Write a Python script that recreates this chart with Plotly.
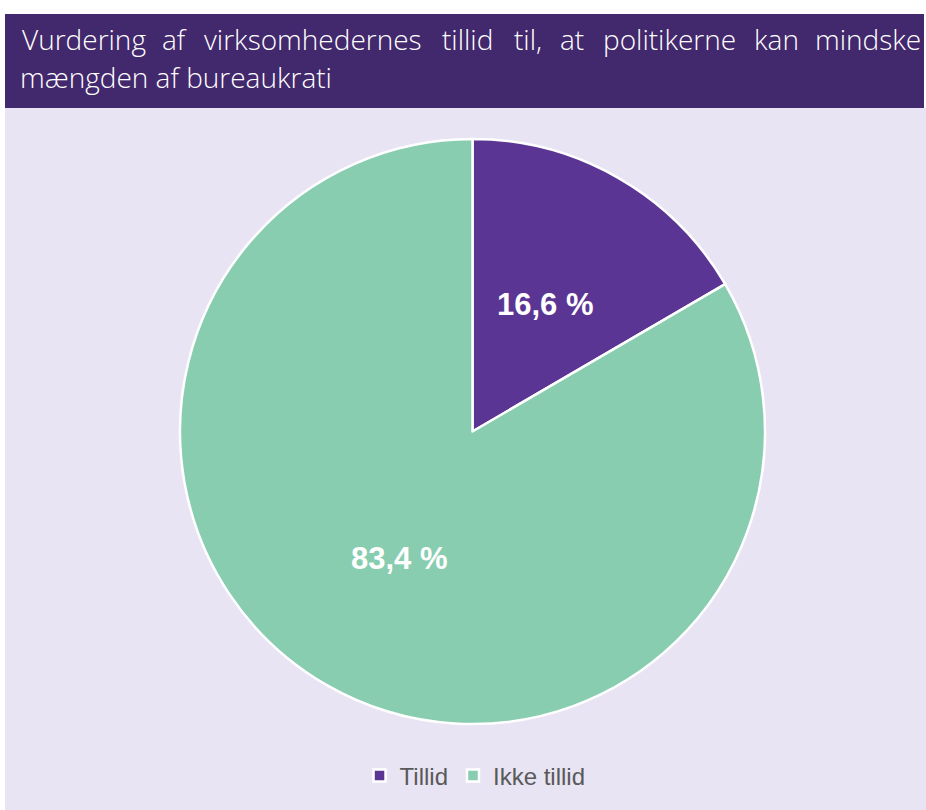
import math
import plotly.graph_objects as go

# ---- data ----
categories = ["Tillid", "Ikke tillid"]
values = [16.6, 83.4]
slice_colors = ["#5A3593", "#88CDB0"]
title_line1_words = ["Vurdering", "af", "virksomhedernes", "tillid", "til,", "at",
                     "politikerne", "kan", "mindske"]
title_line2 = "mængden af bureaukrati"

# ---- layout constants ----
W, H = 926, 810
BAND_COLOR = "#42286C"
BG_COLOR = "#E8E4F4"
# pie domain in pixels
px0, px1 = 179, 766
py0, py1 = 139, 724

fig = go.Figure()
fig.add_trace(go.Pie(
    labels=categories,
    values=values,
    sort=False,
    direction="clockwise",
    rotation=0,
    marker=dict(colors=slice_colors, line=dict(color="white", width=2.5)),
    textinfo="none",
    hoverinfo="label+percent",
    domain=dict(x=[px0 / W, px1 / W], y=[1 - py1 / H, 1 - py0 / H]),
    showlegend=True,
))

# data labels at half radius along each slice bisector
cx = (px0 + px1) / 2
cy = (py0 + py1) / 2
R = min(px1 - px0, py1 - py0) / 2
total = sum(values)
annotations = []
cum = 0.0
for v in values:
    mid = (cum + v / 2) / total * 2 * math.pi
    cum += v
    lx = cx + 0.5 * R * math.sin(mid)
    ly = cy - 0.5 * R * math.cos(mid)
    annotations.append(dict(
        x=lx / W, y=1 - ly / H, xref="paper", yref="paper",
        text=f"{v:.1f}".replace(".", ",") + " %",
        showarrow=False, xanchor="center", yanchor="middle",
        font=dict(family="Liberation Sans, Arial", size=31, color="white", weight="bold"),
    ))

# title: justified first line (word centres), second line left aligned
word_centres = [83.5, 174, 313, 467.5, 527.5, 571.5, 669.5, 776.5, 867.5]
for w, xc in zip(title_line1_words, word_centres):
    annotations.append(dict(
        x=xc / W, y=1 - 39 / H, xref="paper", yref="paper", text=w,
        showarrow=False, xanchor="center", yanchor="middle",
        font=dict(family="Open Sans", size=28, color="white", weight=300),
    ))
annotations.append(dict(
    x=18 / W, y=1 - 77 / H, xref="paper", yref="paper", text=title_line2,
    showarrow=False, xanchor="left", yanchor="middle",
    font=dict(family="Open Sans", size=28, color="white", weight=300),
))

shapes = [
    dict(type="rect", xref="paper", yref="paper", x0=5 / W, x1=1, y0=0, y1=1 - 108 / H,
         fillcolor=BG_COLOR, line=dict(width=0), layer="below"),
    dict(type="rect", xref="paper", yref="paper", x0=5 / W, x1=924 / W, y0=1 - 108 / H, y1=1 - 14 / H,
         fillcolor=BAND_COLOR, line=dict(width=0), layer="below"),
]

fig.update_layout(
    width=W, height=H,
    margin=dict(l=0, r=0, t=0, b=0),
    paper_bgcolor="white",
    plot_bgcolor="white",
    shapes=shapes,
    annotations=annotations,
    legend=dict(orientation="h", x=0.513, xanchor="center", y=1 - 776 / H, yanchor="middle",
                font=dict(family="Liberation Sans, Arial", size=24, color="#595959"),
                bgcolor="rgba(0,0,0,0)", itemclick=False),
)

fig.write_html("out.html",
               config={"displayModeBar": False},
               post_script="document.body.style.margin='0';document.body.style.overflow='hidden';")
